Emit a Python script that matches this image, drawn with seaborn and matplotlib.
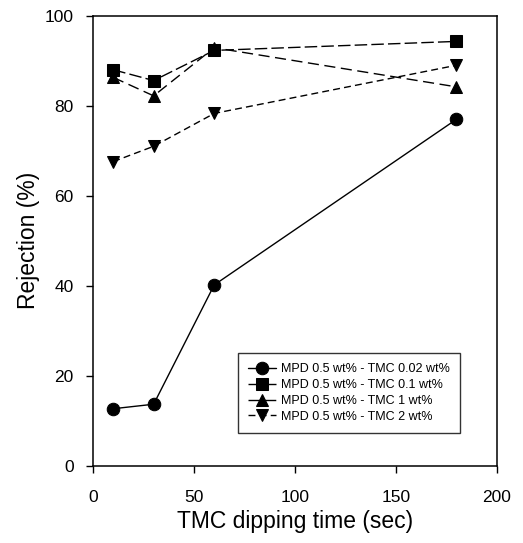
import matplotlib
matplotlib.use("Agg")
import matplotlib.pyplot as plt
import seaborn as sns
import pandas as pd

# Dipping time (sec) and rejection (%) for each TMC concentration
dip_time = [10, 30, 60, 180]
rej_tmc_002 = [12.7, 13.7, 40.2, 77.0]
rej_tmc_01 = [88.0, 85.6, 92.3, 94.3]
rej_tmc_1 = [86.3, 82.2, 92.9, 84.2]
rej_tmc_2 = [67.6, 71.0, 78.3, 89.0]
series_labels = [
    "MPD 0.5 wt% - TMC 0.02 wt%",
    "MPD 0.5 wt% - TMC 0.1 wt%",
    "MPD 0.5 wt% - TMC 1 wt%",
    "MPD 0.5 wt% - TMC 2 wt%",
]
x_ticks = [0, 50, 100, 150, 200]
y_ticks = [0, 20, 40, 60, 80, 100]

sns.set_theme(style="ticks")
plt.rcParams["font.family"] = ["Liberation Sans", "DejaVu Sans"]
plt.rcParams["text.color"] = "black"
plt.rcParams["axes.labelcolor"] = "black"

frames = []
for lab, vals in zip(series_labels, [rej_tmc_002, rej_tmc_01, rej_tmc_1, rej_tmc_2]):
    frames.append(pd.DataFrame({"time": dip_time, "rejection": vals, "series": lab}))
df = pd.concat(frames, ignore_index=True)

fig = plt.figure(figsize=(5.23, 5.43), dpi=100)
ax = fig.add_axes([0.178, 0.142, 0.772, 0.829])

markers = {series_labels[0]: "o", series_labels[1]: "s",
           series_labels[2]: "^", series_labels[3]: "v"}
dashes = {series_labels[0]: "",
          series_labels[1]: (9, 3),
          series_labels[2]: (8, 4),
          series_labels[3]: (5, 3)}

sns.lineplot(data=df, x="time", y="rejection", hue="series", style="series",
             markers=markers, dashes=dashes,
             palette=["black"] * 4, markersize=9, linewidth=1.0,
             markeredgecolor="black", ax=ax)

ax.set_xlim(0, 200)
ax.set_ylim(0, 100)
ax.set_xticks(x_ticks)
ax.set_yticks(y_ticks)
ax.tick_params(axis="both", labelsize=12.5, direction="out", length=5, width=1,
               colors="black", labelcolor="black")
ax.tick_params(axis="x", pad=12)
ax.tick_params(axis="y", pad=9)
for s in ax.spines.values():
    s.set_linewidth(1.1)
    s.set_color("black")
ax.set_xlabel("TMC dipping time (sec)", fontsize=16.5, labelpad=4, color="black")
ax.set_ylabel("Rejection (%)", fontsize=16.5, labelpad=3, color="black")

leg = ax.legend(loc="lower right", bbox_to_anchor=(0.925, 0.06), fontsize=9,
                frameon=True, fancybox=False, edgecolor="black",
                handlelength=2.3, handletextpad=0.4, labelspacing=0.3,
                borderpad=0.8, markerscale=1.0)
leg.get_frame().set_linewidth(1.0)
for t in leg.get_texts():
    t.set_color("black")

fig.savefig("out.png", dpi=100, facecolor="white")
